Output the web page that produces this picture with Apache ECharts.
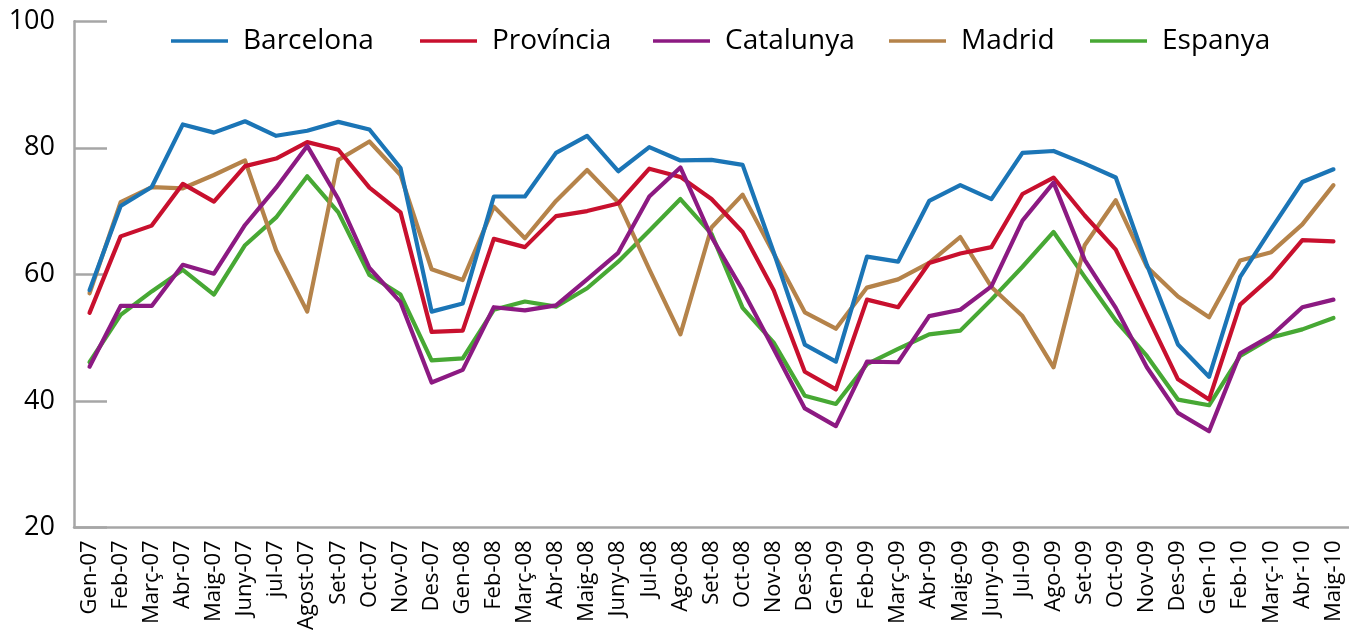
<!DOCTYPE html>
<html>
<head>
<meta charset="utf-8">
<script src="https://cdn.jsdelivr.net/npm/echarts@6/dist/echarts.min.js"></script>
<style>
html,body{margin:0;padding:0;background:#fff;}
#chart{width:1349px;height:633px;}
</style>
</head>
<body>
<div id="chart"></div>
<script>
var categories = ['Gen-07','Feb-07','Març-07','Abr-07','Maig-07','Juny-07','jul-07','Agost-07','Set-07','Oct-07','Nov-07','Des-07',
  'Gen-08','Feb-08','Març-08','Abr-08','Maig-08','Juny-08','Jul-08','Ago-08','Set-08','Oct-08','Nov-08','Des-08',
  'Gen-09','Feb-09','Març-09','Abr-09','Maig-09','Juny-09','Jul-09','Ago-09','Set-09','Oct-09','Nov-09','Des-09',
  'Gen-10','Feb-10','Març-10','Abr-10','Maig-10'];

var barcelona = [57.5,70.8,73.8,83.7,82.4,84.2,81.9,82.7,84.1,82.9,76.8,54.1,
  55.4,72.3,72.3,79.2,81.9,76.3,80.1,78.0,78.1,77.3,63.5,48.9,
  46.2,62.8,62.0,71.6,74.1,71.9,79.2,79.5,77.5,75.3,61.5,48.9,
  43.8,59.6,67.2,74.6,76.6];
var provincia = [53.9,66.0,67.7,74.3,71.5,77.1,78.3,80.9,79.7,73.7,69.8,50.9,
  51.1,65.6,64.3,69.2,70.0,71.2,76.7,75.4,71.9,66.7,57.5,44.6,
  41.8,56.0,54.8,61.8,63.3,64.3,72.7,75.3,69.3,63.9,53.6,43.4,
  40.2,55.2,59.6,65.4,65.2];
var catalunya = [45.4,55.0,55.0,61.5,60.1,67.8,73.7,80.3,71.9,61.0,55.6,42.9,
  44.9,54.8,54.3,55.1,59.2,63.4,72.3,76.9,65.9,57.5,48.2,38.8,
  36.0,46.2,46.1,53.4,54.4,58.1,68.5,74.5,62.3,54.7,45.3,38.1,
  35.2,47.5,50.3,54.8,56.0];
var madrid = [57.0,71.4,73.8,73.6,75.7,78.0,63.8,54.1,78.1,81.0,75.7,60.8,
  59.1,70.7,65.7,71.6,76.5,71.4,60.8,50.5,67.4,72.6,63.3,54.0,
  51.4,57.9,59.2,61.8,65.9,58.0,53.4,45.3,64.6,71.7,61.2,56.5,
  53.2,62.2,63.5,67.9,74.1];
var espanya = [46.1,53.6,57.3,60.7,56.8,64.6,69.0,75.5,69.8,59.9,56.8,46.4,
  46.7,54.4,55.7,54.9,57.8,62.0,66.9,71.9,66.4,54.7,49.2,40.8,
  39.5,45.8,48.2,50.5,51.1,56.0,61.2,66.7,59.6,52.7,47.1,40.2,
  39.3,47.1,50.0,51.3,53.1];

var seriesNames = ['Barcelona','Província','Catalunya','Madrid','Espanya'];
var yTicks = [20,40,60,80,100];

var colors = {
  'Barcelona':'#1b75b6',
  'Província':'#c8102e',
  'Catalunya':'#8c1a82',
  'Madrid':'#b5834a',
  'Espanya':'#47a834'
};
var dataMap = {
  'Barcelona':barcelona,'Província':provincia,'Catalunya':catalunya,'Madrid':madrid,'Espanya':espanya
};
var drawOrder = ['Espanya','Madrid','Província','Catalunya','Barcelona'];
var legendLeft = [166, 415, 648, 884, 1085];
var FONT = 'Open Sans';
var AXIS = '#a6a6a6';

var chart = echarts.init(document.getElementById('chart'), null, {renderer:'canvas'});
chart.setOption({
  animation:false,
  backgroundColor:'#ffffff',
  textStyle:{fontFamily:FONT},
  legend:seriesNames.map(function(n, i){
    return {
      data:[n],
      left:legendLeft[i], top:22,
      icon:'rect',
      itemWidth:57, itemHeight:3.5,
      textStyle:{fontFamily:FONT, fontSize:28, color:'#000', padding:[0,0,0,10]}
    };
  }),
  grid:{left:74, right:-6, top:21.3, bottom:99.7, containLabel:false},
  xAxis:{
    type:'category',
    data:categories,
    boundaryGap:true,
    axisLine:{lineStyle:{color:AXIS, width:2.5}},
    axisTick:{inside:true, length:12, lineStyle:{color:AXIS, width:2}, alignWithLabel:false},
    axisLabel:{rotate:90, fontSize:22, color:'#000', fontFamily:FONT, margin:13, interval:0}
  },
  yAxis:{
    type:'value',
    min:yTicks[0], max:yTicks[yTicks.length-1], interval:20,
    axisLine:{show:true, lineStyle:{color:AXIS, width:2.5}},
    axisTick:{show:true, inside:true, length:33, lineStyle:{color:AXIS, width:2.5}},
    splitLine:{show:false},
    axisLabel:{fontSize:27, color:'#000', fontFamily:FONT, margin:19}
  },
  series:drawOrder.map(function(n){
    return {
      name:n, type:'line', data:dataMap[n],
      symbol:'none', smooth:false,
      lineStyle:{color:colors[n], width:4.2, join:'round', cap:'round'},
      itemStyle:{color:colors[n]}
    };
  })
});
</script>
</body>
</html>
